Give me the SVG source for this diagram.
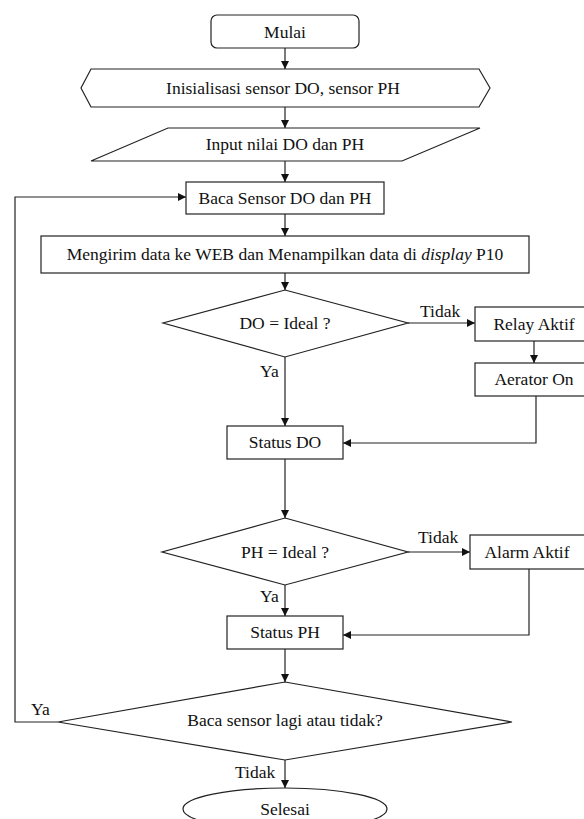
<svg xmlns="http://www.w3.org/2000/svg" width="584" height="819" viewBox="0 0 584 819">
<style>
.s{fill:#fff;stroke:#222;stroke-width:1.2}
.t{font-family:"Liberation Serif","Times New Roman",serif;font-size:17.5px;fill:#111;text-anchor:middle}
.l{font-family:"Liberation Serif","Times New Roman",serif;font-size:17.5px;fill:#111}
.c{fill:none;stroke:#222;stroke-width:1.2}
</style>
<defs>
<marker id="a" markerUnits="userSpaceOnUse" markerWidth="9" markerHeight="8" refX="8" refY="4" orient="auto">
<path d="M0,0 L8,4 L0,8 Z" fill="#111"/>
</marker>
</defs>
<rect width="584" height="819" fill="#fff"/>
<g id="connectors">
<line class="c" x1="285" y1="48" x2="285" y2="69" marker-end="url(#a)"/>
<line class="c" x1="285" y1="107" x2="285" y2="128" marker-end="url(#a)"/>
<line class="c" x1="285" y1="161" x2="285" y2="182" marker-end="url(#a)"/>
<line class="c" x1="285" y1="214" x2="285" y2="236" marker-end="url(#a)"/>
<line class="c" x1="285" y1="273" x2="285" y2="290" marker-end="url(#a)"/>
<line class="c" x1="408" y1="323" x2="475" y2="323" marker-end="url(#a)"/>
<line class="c" x1="534" y1="341" x2="534" y2="363" marker-end="url(#a)"/>
<line class="c" x1="285" y1="357" x2="285" y2="426" marker-end="url(#a)"/>
<polyline class="c" points="536,396 536,443 343,443" marker-end="url(#a)"/>
<line class="c" x1="285" y1="459" x2="285" y2="518" marker-end="url(#a)"/>
<line class="c" x1="408" y1="552" x2="470" y2="552" marker-end="url(#a)"/>
<line class="c" x1="285" y1="585" x2="285" y2="616" marker-end="url(#a)"/>
<polyline class="c" points="529,569 529,635 343,635" marker-end="url(#a)"/>
<line class="c" x1="285" y1="649" x2="285" y2="682" marker-end="url(#a)"/>
<polyline class="c" points="58,722 15,722 15,197 186,197" marker-end="url(#a)"/>
<line class="c" x1="285" y1="760" x2="285" y2="788" marker-end="url(#a)"/>
<text class="l" x="420" y="317">Tidak</text>
<text class="l" x="260" y="377">Ya</text>
<text class="l" x="418" y="543">Tidak</text>
<text class="l" x="260" y="602">Ya</text>
<text class="l" x="31" y="715">Ya</text>
<text class="l" x="235" y="778">Tidak</text>
</g>
<g id="mulai">
<rect class="s" x="211" y="15" width="148" height="33" rx="6"/>
<text class="t" x="285" y="38">Mulai</text>
</g>
<g id="inisialisasi">
<polygon class="s" points="91,69 479,69 490,88 479,107 91,107 81,88"/>
<text class="t" x="283" y="94">Inisialisasi sensor DO, sensor PH</text>
</g>
<g id="input">
<polygon class="s" points="168,128 480,128 402,161 91,161"/>
<text class="t" x="285" y="150">Input nilai DO dan PH</text>
</g>
<g id="baca">
<rect class="s" x="186" y="182" width="198" height="32"/>
<text class="t" x="285" y="204">Baca Sensor DO dan PH</text>
</g>
<g id="mengirim">
<rect class="s" x="41" y="236" width="488" height="37"/>
<text class="t" x="285" y="260">Mengirim data ke WEB dan Menampilkan data di <tspan font-style="italic">display</tspan> P10</text>
</g>
<g id="do-ideal">
<polygon class="s" points="285,290 408,323 285,357 163,323"/>
<text class="t" x="285" y="329">DO = Ideal ?</text>
</g>
<g id="relay">
<rect class="s" x="475" y="307" width="120" height="34"/>
<text class="t" x="534" y="330">Relay Aktif</text>
</g>
<g id="aerator">
<rect class="s" x="475" y="363" width="120" height="33"/>
<text class="t" x="534" y="385">Aerator On</text>
</g>
<g id="status-do">
<rect class="s" x="227" y="426" width="116" height="33"/>
<text class="t" x="285" y="448">Status DO</text>
</g>
<g id="ph-ideal">
<polygon class="s" points="285,518 408,552 285,585 162,552"/>
<text class="t" x="285" y="558">PH = Ideal ?</text>
</g>
<g id="alarm">
<rect class="s" x="470" y="535" width="116" height="34"/>
<text class="t" x="527" y="558">Alarm Aktif</text>
</g>
<g id="status-ph">
<rect class="s" x="227" y="616" width="116" height="33"/>
<text class="t" x="285" y="638">Status PH</text>
</g>
<g id="baca-lagi">
<polygon class="s" points="285,682 512,722 285,760 58,722"/>
<text class="t" x="285" y="726">Baca sensor lagi atau tidak?</text>
</g>
<g id="selesai">
<ellipse class="s" cx="285" cy="809" rx="102" ry="21"/>
<text class="t" x="285" y="815">Selesai</text>
</g>
</svg>
